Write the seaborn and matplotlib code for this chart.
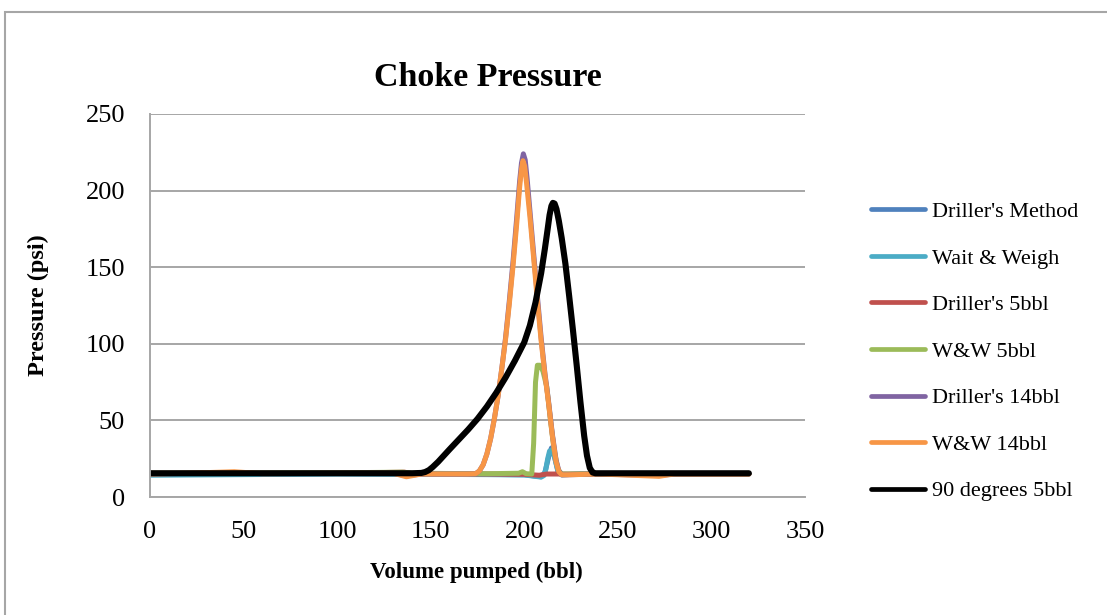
import matplotlib
matplotlib.use("Agg")
import matplotlib.pyplot as plt
import seaborn as sns
from matplotlib.patches import Rectangle

sns.set_theme(style="white")
plt.rcParams["font.family"] = ["Liberation Serif", "DejaVu Serif"]
plt.rcParams["text.color"] = "black"
plt.rcParams["axes.labelcolor"] = "black"

# Axis ticks
x_ticks = [0, 50, 100, 150, 200, 250, 300, 350]
y_ticks = [0, 50, 100, 150, 200, 250]

# Series (volume pumped in bbl, choke pressure in psi)
series_names = ["Driller's Method", "Wait & Weigh", "Driller's 5bbl", "W&W 5bbl",
                "Driller's 14bbl", "W&W 14bbl", "90 degrees 5bbl"]
series_colors = ["#4F81BD", "#4BACC6", "#C0504D", "#9BBB59", "#8064A2", "#F79646", "#000000"]

drillers_method_x = [0, 50, 100, 150, 180, 200, 205, 209, 211, 213, 214.5, 216, 218, 220, 230, 260, 290, 320]
drillers_method_y = [15, 15, 15.2, 15, 14.8, 14.5, 13.8, 13.2, 16, 26, 32, 27, 16.5, 14.5, 15, 15, 15, 15]

wait_weigh_x = [0, 50, 100, 150, 180, 200, 205, 209, 210.5, 211.5, 212.5, 213.5, 214.5, 216, 218, 220, 230, 260, 290, 320]
wait_weigh_y = [14.2, 14.6, 15, 14.8, 14.6, 14.4, 13.6, 13, 14, 18, 25, 30, 30.5, 27, 17, 14.5, 15, 15, 15, 15]

drillers_5bbl_x = [0, 40, 100, 136, 140, 180, 200, 208, 212, 220, 230, 320]
drillers_5bbl_y = [15.5, 15.6, 15.5, 16.2, 15.2, 15, 14.8, 14.2, 15, 15, 15, 15]

ww_5bbl_x = [0, 50, 100, 135, 140, 180, 197, 199, 201, 204, 205, 206, 207, 208.5, 210, 212, 214, 216, 218, 220, 240, 320]
ww_5bbl_y = [15.5, 15.6, 15.8, 16.2, 15.5, 15.2, 15.5, 16.5, 15.2, 15, 35, 75, 86, 86, 82, 72, 50, 30, 18, 15, 15, 15]

drillers_14bbl_x = [0, 20, 45, 60, 100, 130, 137, 145, 170, 174, 176, 178, 180, 182, 184, 186, 188, 190, 192,
                    194, 196, 197.5, 198.5, 199.5, 200.5, 201.5, 203, 205, 207, 209, 211, 213, 215, 217,
                    218.5, 220, 223, 240, 272, 280, 300, 320]
drillers_14bbl_y = [15, 15.4, 16, 15.2, 15.5, 15.5, 13.8, 15, 15, 15.2, 17, 21, 28, 38, 51, 66, 84, 104, 128,
                    154, 183, 206, 218, 224, 220, 208, 187, 159, 131, 104, 81, 62, 41, 24,
                    17, 14.5, 14.5, 15, 14, 15, 15, 15]

ww_14bbl_x = [0, 20, 45, 60, 100, 130, 137, 145, 170, 174, 176, 178, 180, 182, 184, 186, 188, 190, 192,
              194, 196, 197.5, 198.5, 199.3, 200.2, 201.2, 203, 205, 207, 209, 211, 213, 215, 217,
              218.5, 220, 223, 240, 272, 280, 300, 320]
ww_14bbl_y = [15, 15.5, 16.5, 15.2, 15.5, 15.5, 13.2, 15, 15, 15.2, 17, 21, 28, 38, 51, 66, 84, 103, 126,
              151, 179, 202, 214, 219.5, 216, 205, 183, 156, 128, 102, 80, 61, 40, 23,
              16.5, 14.5, 14.5, 15, 13.5, 15, 15, 15]

deg90_5bbl_x = [0, 50, 100, 140, 145, 147, 149, 151, 154, 157, 160, 165, 170, 175, 180, 185, 190, 195, 200,
                203, 206, 209, 211, 212.5, 213.5, 214.5, 215.3, 216.2, 217.2, 218.5, 220, 222, 224, 226,
                228, 230, 232, 233.5, 235, 236.5, 238, 240, 260, 280, 300, 320]
deg90_5bbl_y = [15.5, 15.5, 15.5, 15.5, 15.7, 16.3, 17.5, 19.5, 23, 27, 31, 37.5, 44, 51, 59, 68, 78, 89, 101,
                112, 127, 146, 162, 175, 184, 190, 192, 191.5, 188, 180, 169, 152, 131, 109,
                86, 62, 40, 27, 19, 16, 15.5, 15.5, 15.5, 15.5, 15.5, 15.5]

series_x = [drillers_method_x, wait_weigh_x, drillers_5bbl_x, ww_5bbl_x,
            drillers_14bbl_x, ww_14bbl_x, deg90_5bbl_x]
series_y = [drillers_method_y, wait_weigh_y, drillers_5bbl_y, ww_5bbl_y,
            drillers_14bbl_y, ww_14bbl_y, deg90_5bbl_y]
line_widths = [3.6, 3.6, 3.6, 3.6, 3.6, 3.6, 4.4]

fig = plt.figure(figsize=(11.07, 6.15), dpi=100)
fig.patch.set_facecolor("white")
ax = fig.add_axes([150 / 1107, 1 - 497 / 615, (805 - 150) / 1107, (497 - 114) / 615])

for name, color, xs, ys, lw in zip(series_names, series_colors, series_x, series_y, line_widths):
    sns.lineplot(x=xs, y=ys, ax=ax, color=color, linewidth=lw, label=name,
                 estimator=None, sort=False, solid_capstyle="round", solid_joinstyle="round")

grid_color = "#A6A6A6"
ax.set_xlim(0, 350)
ax.set_ylim(0, 250)
ax.set_xticks(x_ticks)
ax.set_yticks(y_ticks)
ax.yaxis.grid(True, color=grid_color, linewidth=1.4)
ax.xaxis.grid(False)
ax.set_axisbelow(True)
for side in ["top", "right"]:
    ax.spines[side].set_visible(False)
for side in ["left", "bottom"]:
    ax.spines[side].set_color(grid_color)
    ax.spines[side].set_linewidth(1.4)
ax.tick_params(axis="both", length=0, labelsize=19, colors="black")
ax.tick_params(axis="x", pad=17)
ax.tick_params(axis="y", pad=18)

ax.set_xlabel("Volume pumped (bbl)", fontsize=16.5, fontweight="bold")
ax.set_ylabel("Pressure (psi)", fontsize=17.5, fontweight="bold")
ax.xaxis.set_label_coords((476 - 150) / (805 - 150), -(572 - 497) / (497 - 114))
ax.yaxis.set_label_coords(-(150 - 38) / (805 - 150), (497 - 305) / (497 - 114))
ax.xaxis.label.set_va("center")
ax.yaxis.label.set_va("center")

fig.text(488 / 1107, 1 - 77 / 615, "Choke Pressure", ha="center", va="center",
         fontsize=24.5, fontweight="bold")

leg = ax.legend(loc="center left", bbox_to_anchor=(871 / 1107, 1 - 351.5 / 615),
                bbox_transform=fig.transFigure, frameon=False, fontsize=16,
                handlelength=2.45, handletextpad=0.3, labelspacing=1.17,
                borderpad=0, borderaxespad=0)
for line in leg.get_lines():
    line.set_linewidth(3.4)
    line.set_solid_capstyle("round")

# chart area frame
fig.add_artist(Rectangle((5 / 1107, -0.05), 1.2, 1 - 12 / 615 + 0.05, transform=fig.transFigure,
                         fill=False, edgecolor="#A6A6A6", linewidth=1.5))

fig.savefig("out.png", dpi=100)
